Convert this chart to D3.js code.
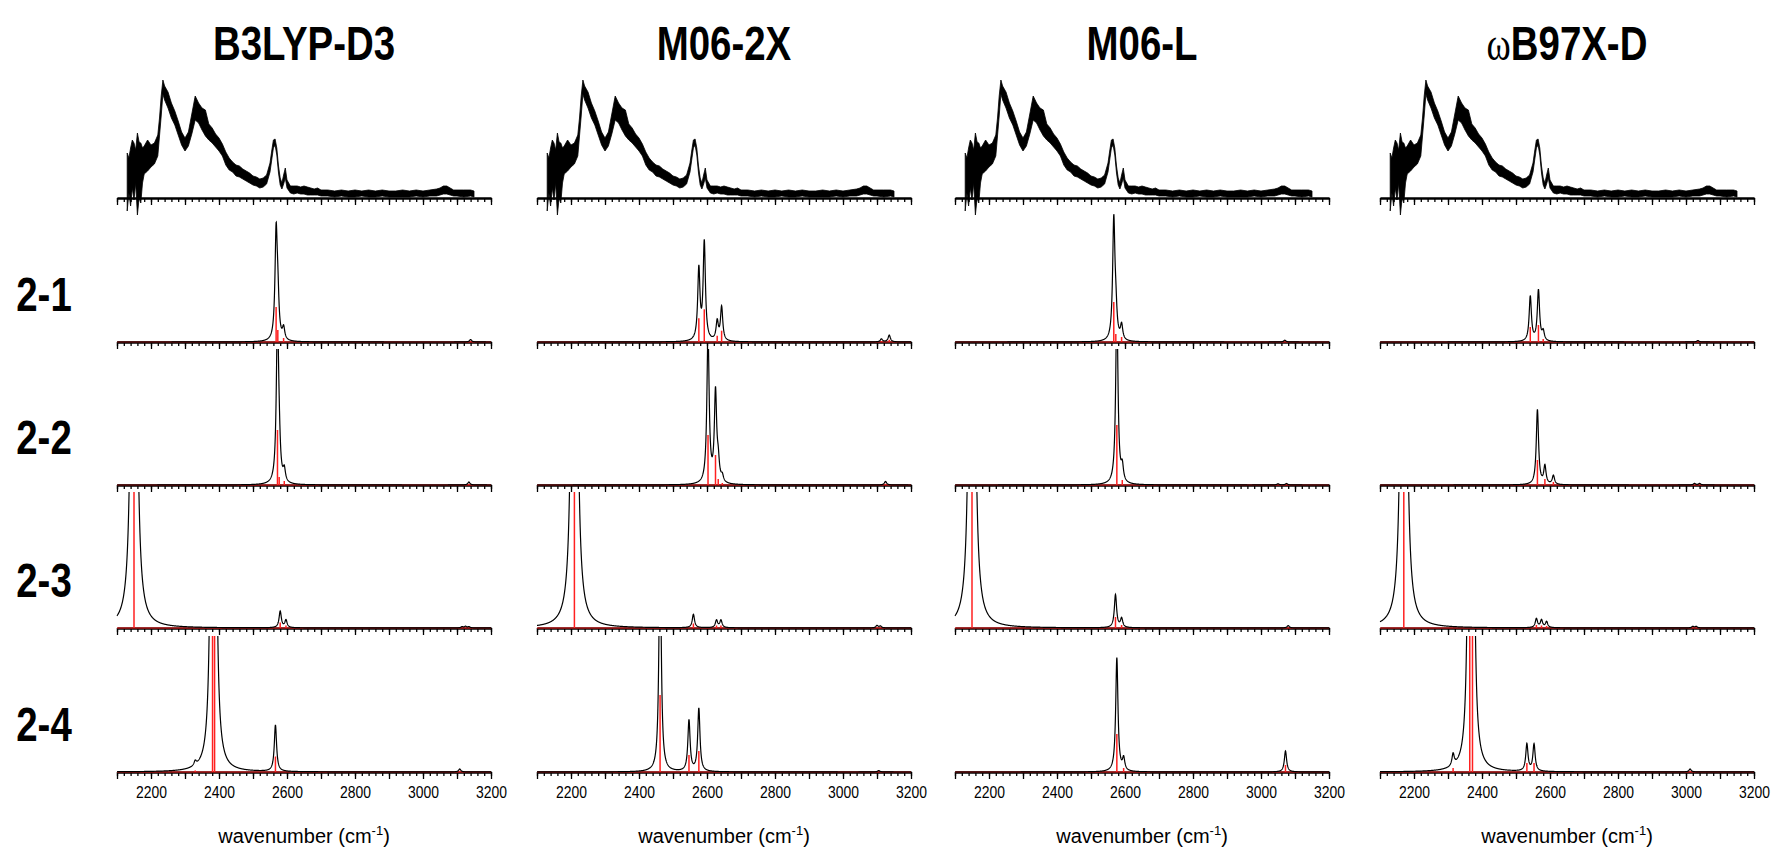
<!DOCTYPE html>
<html>
<head>
<meta charset="utf-8">
<script src="https://cdnjs.cloudflare.com/ajax/libs/d3/7.8.5/d3.min.js"></script>
<style>
  body { margin: 0; background: #fff; }
  svg { display: block; }
</style>
</head>
<body>
<svg id="chart" width="1778" height="851"></svg>
<script>
// ---- data ---------------------------------------------------------------
const methods = ["B3LYP-D3", "M06-2X", "M06-L", "ωB97X-D"];
const molecules = ["2-1", "2-2", "2-3", "2-4"];
const tickLabels = [2200, 2400, 2600, 2800, 3000, 3200];
const wavenumberRange = [2100, 3200];

// measured spectrum: [wavenumber, upper edge, lower edge] of the noisy trace
const expTrace = [
  [2130, 45, -13], [2135, 40, 5], [2140, 50, -8], [2145, 58, 10], [2150, 55, -2],
  [2155, 48, 15], [2160, 65, -17], [2165, 56, 0], [2170, 55, -5], [2175, 50, 15],
  [2180, 52, 24], [2190, 58, 27], [2200, 53, 31], [2210, 55, 34], [2220, 63, 42],
  [2225, 80, 62], [2230, 102, 82], [2235, 118, 104], [2240, 112, 98], [2250, 106, 90],
  [2260, 95, 80], [2270, 87, 73], [2280, 77, 63], [2290, 66, 53], [2300, 60, 47],
  [2310, 66, 52], [2320, 84, 64], [2330, 102, 78], [2340, 95, 75], [2350, 90, 68],
  [2360, 88, 62], [2370, 74, 58], [2380, 70, 55], [2390, 64, 51], [2400, 60, 47],
  [2410, 54, 42], [2420, 46, 33], [2430, 40, 28], [2440, 36, 26], [2450, 33, 22],
  [2460, 32, 21], [2470, 29, 19], [2480, 27, 17], [2490, 25, 15], [2500, 22, 13],
  [2510, 21, 12], [2520, 19, 10], [2530, 20, 11], [2540, 23, 14], [2550, 35, 26],
  [2555, 47, 38], [2560, 58, 50], [2565, 59, 53], [2570, 50, 43], [2575, 32, 25],
  [2580, 20, 13], [2585, 15, 9], [2590, 23, 14], [2595, 30, 20], [2600, 18, 10],
  [2610, 12, 5], [2620, 12, 4], [2630, 12, 5], [2640, 11, 4], [2650, 12, 4],
  [2660, 11, 3], [2670, 10, 3], [2680, 9, 3], [2690, 10, 3], [2700, 8, 2],
  [2720, 8, 2], [2740, 7, 1], [2760, 8, 2], [2780, 7, 1], [2800, 8, 1],
  [2820, 7, 2], [2840, 8, 1], [2860, 7, 1], [2880, 8, 2], [2900, 7, 1],
  [2920, 7, 1], [2940, 8, 1], [2960, 7, 1], [2980, 8, 2], [3000, 7, 1],
  [3020, 8, 2], [3040, 9, 2], [3050, 10, 3], [3060, 12, 4], [3070, 12, 4],
  [3080, 10, 3], [3090, 8, 2], [3100, 8, 2], [3120, 8, 1], [3140, 8, 2], [3150, 7, 1]
];

// computed IR sticks per functional, one list per molecule: [wavenumber, intensity]
const sticksB3LYP = [
  [[2568, 35], [2573, 12], [2590, 4], [3140, 0.8]],
  [[2572, 55], [2577, 8], [2592, 4], [3135, 1]],
  [[2150, 640], [2580, 5.5], [2597, 2.5], [3115, 0.4], [3125, 0.5], [3135, 0.4]],
  [[2330, 1.5], [2381, 250], [2387, 200], [2566, 15.5], [3108, 1]]
];
const sticksM062X = [
  [[2576, 23.7], [2592, 32.7], [2630, 6.3], [2643, 11.3], [3113, 1], [3136, 2.3]],
  [[2603, 50], [2625, 30], [2633, 6], [2645, 2], [3125, 1.2]],
  [[2210, 640], [2560, 4.5], [2628, 2.5], [2641, 2.5], [3100, 0.8], [3110, 0.6]],
  [[2462, 77], [2547, 17], [2576, 21], [3105, 0.5]]
];
const sticksM06L = [
  [[2567, 40], [2573, 8], [2590, 5], [3070, 0.6]],
  [[2576, 60], [2592, 5], [3050, 0.4], [3075, 0.5]],
  [[2150, 640], [2572, 11], [2590, 3], [3080, 0.8]],
  [[2576, 38], [2596, 4], [3072, 7]]
];
const sticksWB97XD = [
  [[2542, 15], [2566, 17], [2580, 3], [3035, 0.5]],
  [[2563, 25], [2585, 6], [2610, 3], [3025, 0.5], [3040, 0.5]],
  [[2170, 640], [2560, 3], [2575, 2.5], [2590, 2], [3020, 0.5], [3030, 0.5]],
  [[2315, 4], [2364, 220], [2372, 200], [2532, 9], [2553, 9], [3012, 1]]
];
const stickSets = [sticksB3LYP, sticksM062X, sticksM06L, sticksWB97XD];

// Lorentzian broadening used for the simulated envelopes
const HWHM = 4;          // cm-1
const ENVELOPE_GAIN = 3; // envelope height relative to stick height

// ---- layout -------------------------------------------------------------
const colLeft = [117, 537, 955, 1380];
const plotW = 374;
const rowBase = [198, 342, 485, 628, 772];
const panelH = 136;

const svg = d3.select("#chart");
const sansFont = "'Liberation Sans', Arial, Helvetica, sans-serif";

function envelope(sticks) {
  const grid = d3.range(wavenumberRange[0], wavenumberRange[1] + 0.25, 0.5);
  return grid.map(w => [w, ENVELOPE_GAIN * d3.sum(sticks, s => s[1] * HWHM * HWHM / ((w - s[0]) ** 2 + HWHM * HWHM))]);
}

function drawAxis(g, x, y0, withLabels) {
  const minor = d3.axisBottom(x)
    .tickValues(d3.range(2100, 3201, 20))
    .tickSize(4).tickSizeOuter(0).tickFormat("");
  const major = d3.axisBottom(x)
    .tickValues(d3.range(2100, 3201, 100))
    .tickSize(7).tickSizeOuter(0)
    .tickFormat(d => (withLabels && tickLabels.includes(d)) ? d : "");
  const gm = g.append("g").attr("transform", `translate(0,${y0})`).call(minor);
  const gM = g.append("g").attr("transform", `translate(0,${y0})`).call(major);
  [gm, gM].forEach(a => {
    a.select(".domain").attr("stroke", "#000").attr("stroke-width", 2);
    a.selectAll(".tick line").attr("stroke", "#000").attr("stroke-width", 1.3);
  });
  gM.selectAll(".tick text")
    .attr("y", 26).attr("dy", null)
    .attr("transform", "scale(0.82,1)")
    .attr("fill", "#000")
    .style("font-family", sansFont)
    .style("font-size", "17px");
}

methods.forEach((method, ci) => {
  const x = d3.scaleLinear().domain(wavenumberRange).range([colLeft[ci], colLeft[ci] + plotW]);
  const cx = colLeft[ci] + plotW / 2;
  const col = svg.append("g");

  // column title
  const title = col.append("text")
    .attr("transform", `translate(${cx},60) scale(0.8,1)`)
    .attr("text-anchor", "middle")
    .style("font-family", sansFont)
    .style("font-weight", "bold")
    .style("font-size", "48px");
  if (method.startsWith("ω")) {
    title.append("tspan").text("ω")
      .style("font-family", "'Liberation Serif', 'Times New Roman', serif")
      .style("font-weight", "normal").style("font-size", "46px");
    title.append("tspan").text(method.slice(1));
  } else {
    title.text(method);
  }

  // measured spectrum
  const yExp = d3.scaleLinear().domain([0, panelH]).range([rowBase[0], rowBase[0] - panelH]);
  const band = d3.area().x(d => x(d[0])).y0(d => yExp(d[2])).y1(d => yExp(d[1]));
  col.append("path").datum(expTrace)
    .attr("d", band).attr("fill", "#000")
    .attr("stroke", "#000").attr("stroke-width", 0.8).attr("stroke-linejoin", "miter");
  drawAxis(col, x, rowBase[0], false);

  // simulated spectra
  molecules.forEach((mol, ri) => {
    const base = rowBase[ri + 1];
    const y = d3.scaleLinear().domain([0, panelH]).range([base, base - panelH]);
    const clipId = `clip-${ci}-${ri}`;
    svg.append("clipPath").attr("id", clipId)
      .append("rect")
      .attr("x", colLeft[ci] - 4).attr("y", base - panelH)
      .attr("width", plotW + 8).attr("height", panelH + 1);

    drawAxis(col, x, base, ri === molecules.length - 1);

    const g = col.append("g").attr("clip-path", `url(#${clipId})`);
    const sticks = stickSets[ci][ri];

    g.append("line")
      .attr("x1", x(wavenumberRange[0])).attr("x2", x(wavenumberRange[1]))
      .attr("y1", y(0)).attr("y2", y(0))
      .attr("stroke", "#ff2020").attr("stroke-width", 1);
    g.selectAll("line.stick").data(sticks).join("line")
      .attr("class", "stick")
      .attr("x1", d => x(d[0])).attr("x2", d => x(d[0]))
      .attr("y1", y(0)).attr("y2", d => y(d[1]))
      .attr("stroke", "#ff2020").attr("stroke-width", 1.5);

    g.append("path").datum(envelope(sticks))
      .attr("d", d3.line().x(d => x(d[0])).y(d => y(d[1])))
      .attr("fill", "none").attr("stroke", "#000").attr("stroke-width", 1.2);
  });

  // axis title
  const xt = col.append("text")
    .attr("x", cx).attr("y", 843)
    .attr("text-anchor", "middle")
    .style("font-family", sansFont)
    .style("font-size", "20px");
  xt.append("tspan").text("wavenumber (cm");
  xt.append("tspan").text("-1").attr("dy", -8).style("font-size", "13px");
  xt.append("tspan").text(")").attr("dy", 8);
});

// molecule labels
svg.selectAll("text.mol").data(molecules).join("text")
  .attr("class", "mol")
  .attr("transform", (d, i) => `translate(44,${rowBase[i + 1] - 31}) scale(0.8,1)`)
  .attr("text-anchor", "middle")
  .style("font-family", sansFont)
  .style("font-weight", "bold")
  .style("font-size", "48px")
  .text(d => d);
</script>
</body>
</html>
